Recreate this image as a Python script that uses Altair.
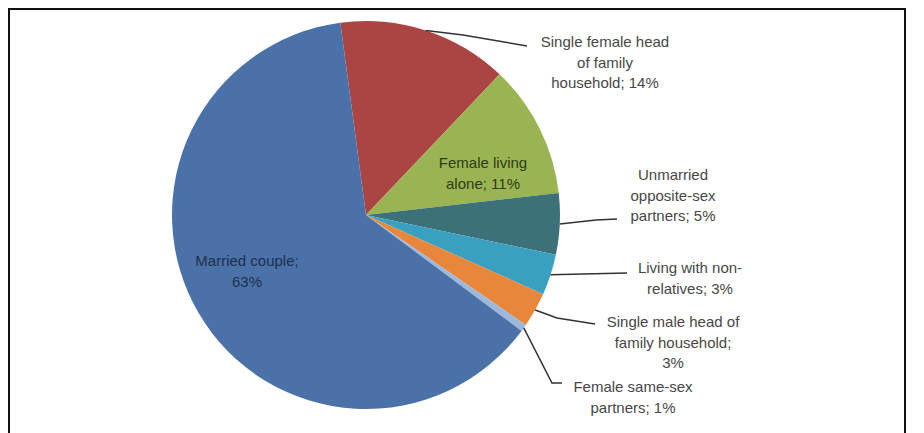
import math
import altair as alt
import pandas as pd

# ---- data ----
categories = [
    "Single female head of family household",
    "Female living alone",
    "Unmarried opposite-sex partners",
    "Living with non-relatives",
    "Single male head of family household",
    "Female same-sex partners",
    "Married couple",
]
values = [14.2, 11.1, 5.1, 3.4, 2.9, 0.6, 62.7]
label_lines = [
    ["Single female head", "of family", "household; 14%"],
    ["Female living", "alone; 11%"],
    ["Unmarried", "opposite-sex", "partners; 5%"],
    ["Living with non-", "relatives; 3%"],
    ["Single male head of", "family household;", "3%"],
    ["Female same-sex", "partners; 1%"],
    ["Married couple;", "63%"],
]
colors = ["#AA4543", "#9AB453", "#3D7179", "#3AA0BF", "#E8873B", "#9DB8DD", "#4A71A8"]

# ---- layout (pixels in the plot area) ----
W, H = 908, 412
CX, CY, R = 358, 207, 194
START = math.radians(-7.6)
label_pos = [(597, 34), (475, 155), (665, 167), (682, 260), (665, 314), (625, 379), (239, 253)]
LINE_H = 20.5
inside_colors = {1: "#2E3B14", 6: "#1E3050"}
leader_pts = [
    [(455, 27), (519, 38)],
    None,
    [(588, 212), (609, 211)],
    [(619, 265)],
    [(549, 310), (587, 316)],
    [(544, 375), (554, 375)],
    None,
]

pie_df = pd.DataFrame({"category": categories, "value": values, "order": list(range(len(values)))})

total = sum(values)
cum = 0.0
line_rows = []
text_rows = []
for i, v in enumerate(values):
    mid = START + 2 * math.pi * (cum + v / 2) / total
    cum += v
    if leader_pts[i] is not None:
        sx = CX + R * math.sin(mid)
        sy = CY - R * math.cos(mid)
        pts = [(sx, sy)] + leader_pts[i]
        for j, (px, py) in enumerate(pts):
            line_rows.append({"lid": i, "idx": j, "x": px, "y": py})
    lx, ly = label_pos[i]
    col = inside_colors.get(i, "#474747")
    for k, t in enumerate(label_lines[i]):
        text_rows.append({"x": lx, "y": ly + k * LINE_H, "text": t, "col": col})

xs = alt.Scale(domain=[0, W], range=[0, W], nice=False, zero=False)
ys = alt.Scale(domain=[0, H], range=[0, H], nice=False, zero=False)

arcs = alt.Chart(pie_df).mark_arc(outerRadius=R).encode(
    theta=alt.Theta("value:Q", stack=True, scale=alt.Scale(range=[START, START + 2 * math.pi])),
    color=alt.Color("category:N", scale=alt.Scale(domain=categories, range=colors), legend=None),
    order=alt.Order("order:Q"),
    x=alt.value(CX),
    y=alt.value(CY),
)

leaders = alt.Chart(pd.DataFrame(line_rows)).mark_line(color="#333333", strokeWidth=1.5).encode(
    x=alt.X("x:Q", scale=xs, axis=None),
    y=alt.Y("y:Q", scale=ys, axis=None),
    detail="lid:N",
    order="idx:Q",
)

labels = alt.Chart(pd.DataFrame(text_rows)).mark_text(
    font="Liberation Sans", fontSize=15, align="center", baseline="middle"
).encode(
    x=alt.X("x:Q", scale=xs, axis=None),
    y=alt.Y("y:Q", scale=ys, axis=None),
    text="text:N",
    color=alt.Color("col:N", scale=None),
)

border_top = alt.Chart(pie_df).mark_rule(color="#111111", strokeWidth=2).encode(
    x=alt.value(1), x2=alt.value(897), y=alt.value(1)
)
border_left = alt.Chart(pie_df).mark_rule(color="#111111", strokeWidth=2).encode(
    x=alt.value(1), y=alt.value(0), y2=alt.value(H + 20)
)
border_right = alt.Chart(pie_df).mark_rule(color="#111111", strokeWidth=2).encode(
    x=alt.value(897), y=alt.value(0), y2=alt.value(H + 20)
)

chart = alt.layer(arcs, leaders, labels, border_top, border_left, border_right).properties(
    width=W, height=H, padding={"left": 0, "top": 0, "right": 0, "bottom": 13},
    autosize=alt.AutoSizeParams(type="none"), background="white"
).configure_view(strokeWidth=0, strokeOpacity=0)

chart.save("out.html", embed_options={"renderer": "svg", "actions": False})
